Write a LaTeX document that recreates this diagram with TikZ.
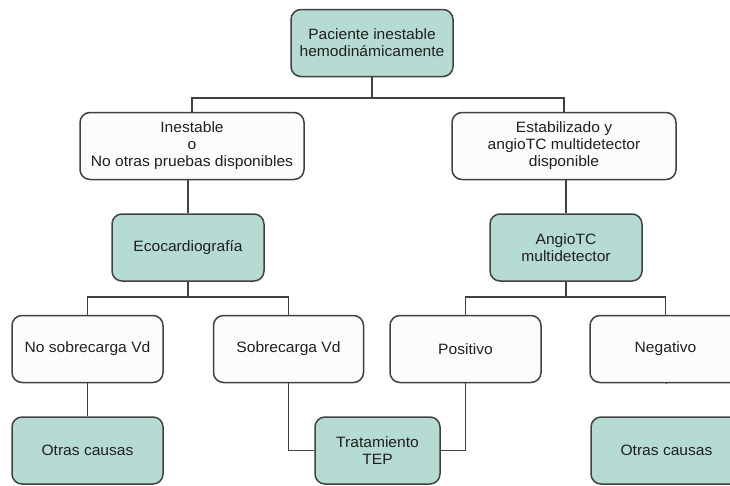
\documentclass[tikz,border=0pt]{standalone}
\usepackage{fontspec}
\setmainfont{Liberation Sans}[FakeStretch=1.04]
\usepackage{tikz}
\usetikzlibrary{calc}

\definecolor{boxgreen}{RGB}{181,219,210}
\definecolor{boxwhite}{RGB}{253,252,250}
\definecolor{linegray}{RGB}{65,65,65}
\tikzset{
  box/.style={draw=linegray,line width=1.5pt,rounded corners=10pt,align=center,
    text=black!88,font=\fontsize{15}{17}\selectfont,inner sep=0pt,
    minimum height=67pt},
  greenbox/.style={box,fill=boxgreen},
  whitebox/.style={box,fill=boxwhite},
  link/.style={draw=linegray,line width=1.4pt}
}

\begin{document}
\begin{tikzpicture}[x=1pt,y=1pt]
\useasboundingbox (0,0) rectangle (730,-485);
\clip (0,0) rectangle (730,-485);
\node[greenbox,minimum width=162pt] (top) at (372,-43) {Paciente inestable\\hemodinámicamente};
\node[whitebox,minimum width=224pt] (inest) at (192,-146) {Inestable\\o\\No otras pruebas disponibles};
\node[whitebox,minimum width=224pt] (estab) at (564,-146) {Estabilizado y\\angioTC multidetector\\disponible};
\node[greenbox,minimum width=152pt] (eco) at (188,-247.5) {Ecocardiografía};
\node[greenbox,minimum width=152pt] (angio) at (566,-247.5) {AngioTC\\multidetector};
\node[whitebox,minimum width=151pt] (nosob) at (87.5,-349) {No sobrecarga Vd};
\node[whitebox,minimum width=150pt] (sob) at (288.5,-349) {Sobrecarga Vd};
\node[whitebox,minimum width=151pt] (pos) at (465.5,-349) {Positivo};
\node[whitebox,minimum width=151pt] (neg) at (665.5,-349) {Negativo};
\node[greenbox,minimum width=151pt] (otras1) at (87.5,-450.5) {Otras causas};
\node[greenbox,minimum width=125pt] (tep) at (377.5,-450.5) {Tratamiento\\TEP};
\node[greenbox,minimum width=151pt] (otras2) at (666.5,-450.5) {Otras causas};
\coordinate (bus1) at (0,-98);
\coordinate (bus2) at (0,-297);
\draw[link] (top.south) -- (top.south |- bus1);
\draw[link] (inest.north) |- (bus1 -| estab.north) -- (estab.north);
\draw[link] (eco.north |- inest.south) -- (eco.north);
\draw[link] (angio.north |- estab.south) -- (angio.north);
\draw[link] (eco.south) -- (eco.south |- bus2);
\draw[link] (angio.south) -- (angio.south |- bus2);
\draw[link] (nosob.north) |- (bus2 -| sob.north) -- (sob.north);
\draw[link] (pos.north) |- (bus2 -| neg.north) -- (neg.north);
\draw[link] (nosob.south) -- (otras1.north);
\draw[link] (neg.south) -- (otras2.north |- neg.south);
\draw[link] (sob.south) |- (tep.west);
\draw[link] (pos.south) |- (tep.east);
\end{tikzpicture}
\end{document}
